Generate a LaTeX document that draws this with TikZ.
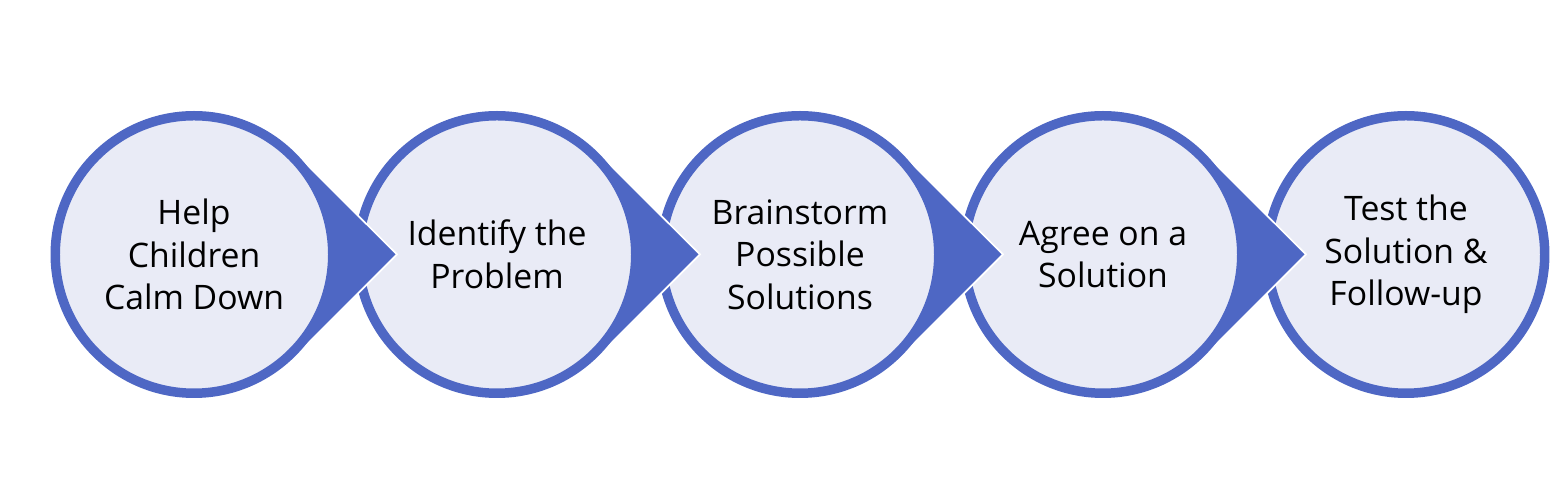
\documentclass[tikz,border=0pt]{standalone}
\usepackage{fontspec}
\setmainfont{Open Sans}
\usetikzlibrary{calc}

\definecolor{ringblue}{RGB}{78,103,196}
\definecolor{paleblue}{RGB}{233,235,246}

\tikzset{
  stage/.style={circle, draw=ringblue, fill=paleblue, line width=2.7pt,
    minimum size=2.775cm, inner sep=0pt, align=center,
    font=\fontsize{9.6}{12.1}\selectfont},
  pointer/.style={fill=ringblue},
  pointeredge/.style={draw=white, line width=0.5pt}
}

\begin{document}
\begin{tikzpicture}
    \useasboundingbox (0,0) rectangle (15.63,4.91);
    % last stage first, so that each pointer lies on top of the next circle
    \foreach \i/\x/\txt in {5/14.06/{Test the\\Solution \&\\Follow-up},
                            4/11.03/{Agree on a\\Solution},
                            3/8.00/{Brainstorm\\Possible\\Solutions},
                            2/4.97/{Identify the\\Problem},
                            1/1.94/{Help\\Children\\Calm Down}} {
        \coordinate (c\i) at (\x,2.365);
        \ifnum\i<5
            \coordinate (t\i) at ($(c\i)+(2.03,0)$);
            \fill[pointer] ($(c\i)+(45:1.435)$) -- (t\i) -- ($(c\i)+(-45:1.435)$)
                -- ($(c\i)+(-45:1.38)$) arc[start angle=-45, end angle=45, radius=1.38] -- cycle;
            \draw[pointeredge] ($(c\i)+(45:1.435)$) -- (t\i) -- ($(c\i)+(-45:1.435)$);
        \fi
        \node[stage] (s\i) at (c\i) {\txt};
    }
\end{tikzpicture}
\end{document}
